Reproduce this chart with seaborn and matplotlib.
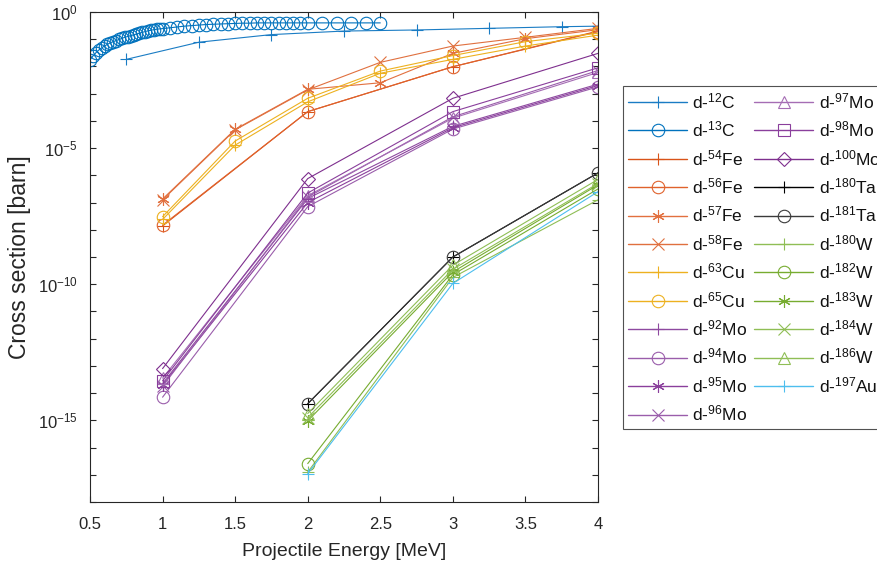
import numpy as np
import pandas as pd
import matplotlib
matplotlib.use("Agg")
import matplotlib.pyplot as plt
from matplotlib.ticker import FixedLocator, FuncFormatter
from matplotlib.lines import Line2D
import seaborn as sns

sns.set_style("ticks")
plt.rcParams['font.family'] = ['Liberation Sans', 'DejaVu Sans']
plt.rcParams['mathtext.fontset'] = 'custom'
plt.rcParams['mathtext.rm'] = 'Liberation Sans'
plt.rcParams['mathtext.it'] = 'Liberation Sans:italic'

# ---------------- data (cross sections given as log10 of barn) ----------------
e_c12 = [0.75, 1.25, 1.75, 2.25, 2.75, 3.25, 3.75, 4.0]
lg_c12 = [-1.74, -1.11, -0.83, -0.70, -0.66, -0.60, -0.54, -0.52]

e_c13 = [0.50, 0.52, 0.54, 0.56, 0.58, 0.60, 0.62, 0.64, 0.66, 0.68, 0.70, 0.72, 0.74,
         0.76, 0.78, 0.80, 0.82, 0.84, 0.86, 0.88, 0.90, 0.92, 0.94, 0.96, 0.98, 1.00,
         1.05, 1.10, 1.15, 1.20, 1.25, 1.30, 1.35, 1.40, 1.45, 1.50, 1.55, 1.60, 1.65,
         1.70, 1.75, 1.80, 1.85, 1.90, 1.95, 2.00, 2.10, 2.20, 2.30, 2.40, 2.50]
lg_c13 = [-1.76, -1.62, -1.50, -1.40, -1.32, -1.25, -1.19, -1.13, -1.09, -1.05, -1.01,
          -0.97, -0.93, -0.90, -0.87, -0.84, -0.81, -0.78, -0.75, -0.72, -0.69, -0.67,
          -0.65, -0.63, -0.62, -0.61, -0.58, -0.55, -0.52, -0.50, -0.48, -0.46, -0.45,
          -0.44, -0.43, -0.42, -0.41, -0.41, -0.40, -0.40, -0.40, -0.40, -0.40, -0.40,
          -0.40, -0.40, -0.40, -0.40, -0.40, -0.40, -0.40]

e_fe_a = [1, 2, 3, 4]
lg_fe54 = [-7.86, -3.66, -2.01, -0.70]
lg_fe56 = [-7.83, -3.66, -2.01, -0.72]
e_fe_b = [1, 1.5, 2, 2.5, 3, 3.5, 4]
lg_fe57 = [-6.87, -4.31, -2.84, -2.60, -1.52, -0.98, -0.65]
lg_fe58 = [-6.90, -4.33, -2.86, -1.85, -1.25, -0.93, -0.60]
lg_cu63 = [-7.62, -4.89, -3.30, -2.25, -1.74, -1.25, -0.85]
lg_cu65 = [-7.52, -4.74, -3.17, -2.17, -1.60, -1.09, -0.78]

e_mo = [1, 2, 3, 4]
lg_mo92 = [-13.65, -6.85, -4.20, -2.65]
lg_mo94 = [-14.15, -7.15, -4.30, -2.75]
lg_mo95 = [-13.70, -7.00, -4.25, -2.70]
lg_mo96 = [-13.75, -6.80, -3.85, -2.15]
lg_mo97 = [-13.45, -6.75, -3.90, -2.22]
lg_mo98 = [-13.55, -6.65, -3.66, -2.05]
lg_mo100 = [-13.10, -6.12, -3.17, -1.52]

e_heavy = [2, 3, 4]
lg_ta180 = [-14.39, -9.00, -5.91]
lg_ta181 = [-14.39, -9.00, -5.91]
lg_w180 = [-16.90, -9.75, -6.90]
lg_w182 = [-16.59, -9.65, -6.50]
lg_w183 = [-15.02, -9.55, -6.35]
lg_w184 = [-14.90, -9.45, -6.30]
lg_w186 = [-14.75, -9.30, -6.15]
lg_au197 = [-16.96, -9.97, -6.60]

masses = [12, 13, 54, 56, 57, 58, 63, 65, 92, 94, 95, 96, 97, 98, 100,
          180, 181, 180, 182, 183, 184, 186, 197]
elements = ['C', 'C', 'Fe', 'Fe', 'Fe', 'Fe', 'Cu', 'Cu', 'Mo', 'Mo', 'Mo', 'Mo', 'Mo',
            'Mo', 'Mo', 'Ta', 'Ta', 'W', 'W', 'W', 'W', 'W', 'Au']

energies = [e_c12, e_c13, e_fe_a, e_fe_a, e_fe_b, e_fe_b, e_fe_b, e_fe_b,
            e_mo, e_mo, e_mo, e_mo, e_mo, e_mo, e_mo,
            e_heavy, e_heavy, e_heavy, e_heavy, e_heavy, e_heavy, e_heavy, e_heavy]
logxs = [lg_c12, lg_c13, lg_fe54, lg_fe56, lg_fe57, lg_fe58, lg_cu63, lg_cu65,
         lg_mo92, lg_mo94, lg_mo95, lg_mo96, lg_mo97, lg_mo98, lg_mo100,
         lg_ta180, lg_ta181, lg_w180, lg_w182, lg_w183, lg_w184, lg_w186, lg_au197]

# ---------------- styles ----------------
ast = (6, 2, 0)
markers = ['+', 'o', '+', 'o', ast, 'x', '+', 'o', '+', 'o', ast, 'x', '^', 's', 'D',
           '+', 'o', '+', 'o', ast, 'x', '^', '+']
colors = ['#1A7CC4', '#0072BD', '#D95319', '#E0622C', '#E2703F', '#E0703F', '#EDB120', '#EDB120',
          '#8E49A0', '#9A5DAB', '#8A3F9C', '#9A5DAB', '#A56DB4', '#8A3F9C', '#7E2F8E',
          '#000000', '#3A3A3A', '#8FBE55', '#77AC30', '#77AC30', '#8FBE55', '#8FBE55', '#4DBEEE']
sizes = {'+': 9, 'o': 9, 'x': 8, '^': 9, 's': 8, 'D': 7}

fig = plt.figure(figsize=(8.77, 5.70), dpi=100)
ax = fig.add_axes([90 / 877, 1 - 502 / 570, 508 / 877, 490 / 570])

handles = []
for m, el, e, lg, mk, c in zip(masses, elements, energies, logxs, markers, colors):
    lab = r'd-$\mathdefault{^{%d}}$%s' % (m, el)
    df = pd.DataFrame({'E': e, 'xs': 10.0 ** np.asarray(lg)})
    ms = sizes.get(mk, 9) if isinstance(mk, str) else 9
    sns.lineplot(data=df, x='E', y='xs', ax=ax, color=c, marker=mk, ms=ms,
                 mfc='none', mec=c, mew=0.8, lw=0.8, estimator=None, sort=False)
    handles.append(Line2D([], [], color=c, marker=mk, ms=ms, mfc='none', mec=c,
                          mew=0.8, lw=1.0, label=lab))

ax.set_yscale('log')
ax.set_xlim(0.5, 4)
ax.set_ylim(1e-18, 1)
ax.set_xticks([0.5, 1, 1.5, 2, 2.5, 3, 3.5, 4])
ax.set_xticklabels(['0.5', '1', '1.5', '2', '2.5', '3', '3.5', '4'])
ax.yaxis.set_major_locator(FixedLocator([10.0 ** (-k) for k in range(0, 19)]))
ax.yaxis.set_minor_locator(FixedLocator([]))


def yfmt(v, pos):
    k = int(round(-np.log10(v)))
    if k % 5 == 0:
        return r'$\mathdefault{10^{%d}}$' % (-k) if k else r'$\mathdefault{10^{0}}$'
    return ''


ax.yaxis.set_major_formatter(FuncFormatter(yfmt))
ax.tick_params(axis='both', which='both', direction='in', top=True, right=True,
               length=4.5, width=0.8, colors='#262626', labelsize=12)
ax.tick_params(axis='x', pad=11)
ax.tick_params(axis='y', pad=9)
for s in ax.spines.values():
    s.set_color('#262626')
    s.set_linewidth(0.8)
    s.set_visible(True)

ax.set_xlabel('Projectile Energy [MeV]', fontsize=14, color='#262626', labelpad=8)
ax.set_ylabel('Cross section [barn]', fontsize=16.5, color='#262626', labelpad=5)

leg = fig.legend(handles=handles, loc='upper left', bbox_to_anchor=(623 / 877, 1 - 86 / 570),
                 bbox_transform=fig.transFigure, ncol=2, frameon=True, fancybox=False,
                 edgecolor='#262626', borderaxespad=0, borderpad=0.3,
                 handlelength=3.4, handletextpad=0.3, columnspacing=0.4,
                 labelspacing=0.49, prop={'size': 12.5})
leg.get_frame().set_linewidth(0.8)
for t in leg.get_texts():
    t.set_color('#111111')

fig.savefig('out.png', dpi=100)
